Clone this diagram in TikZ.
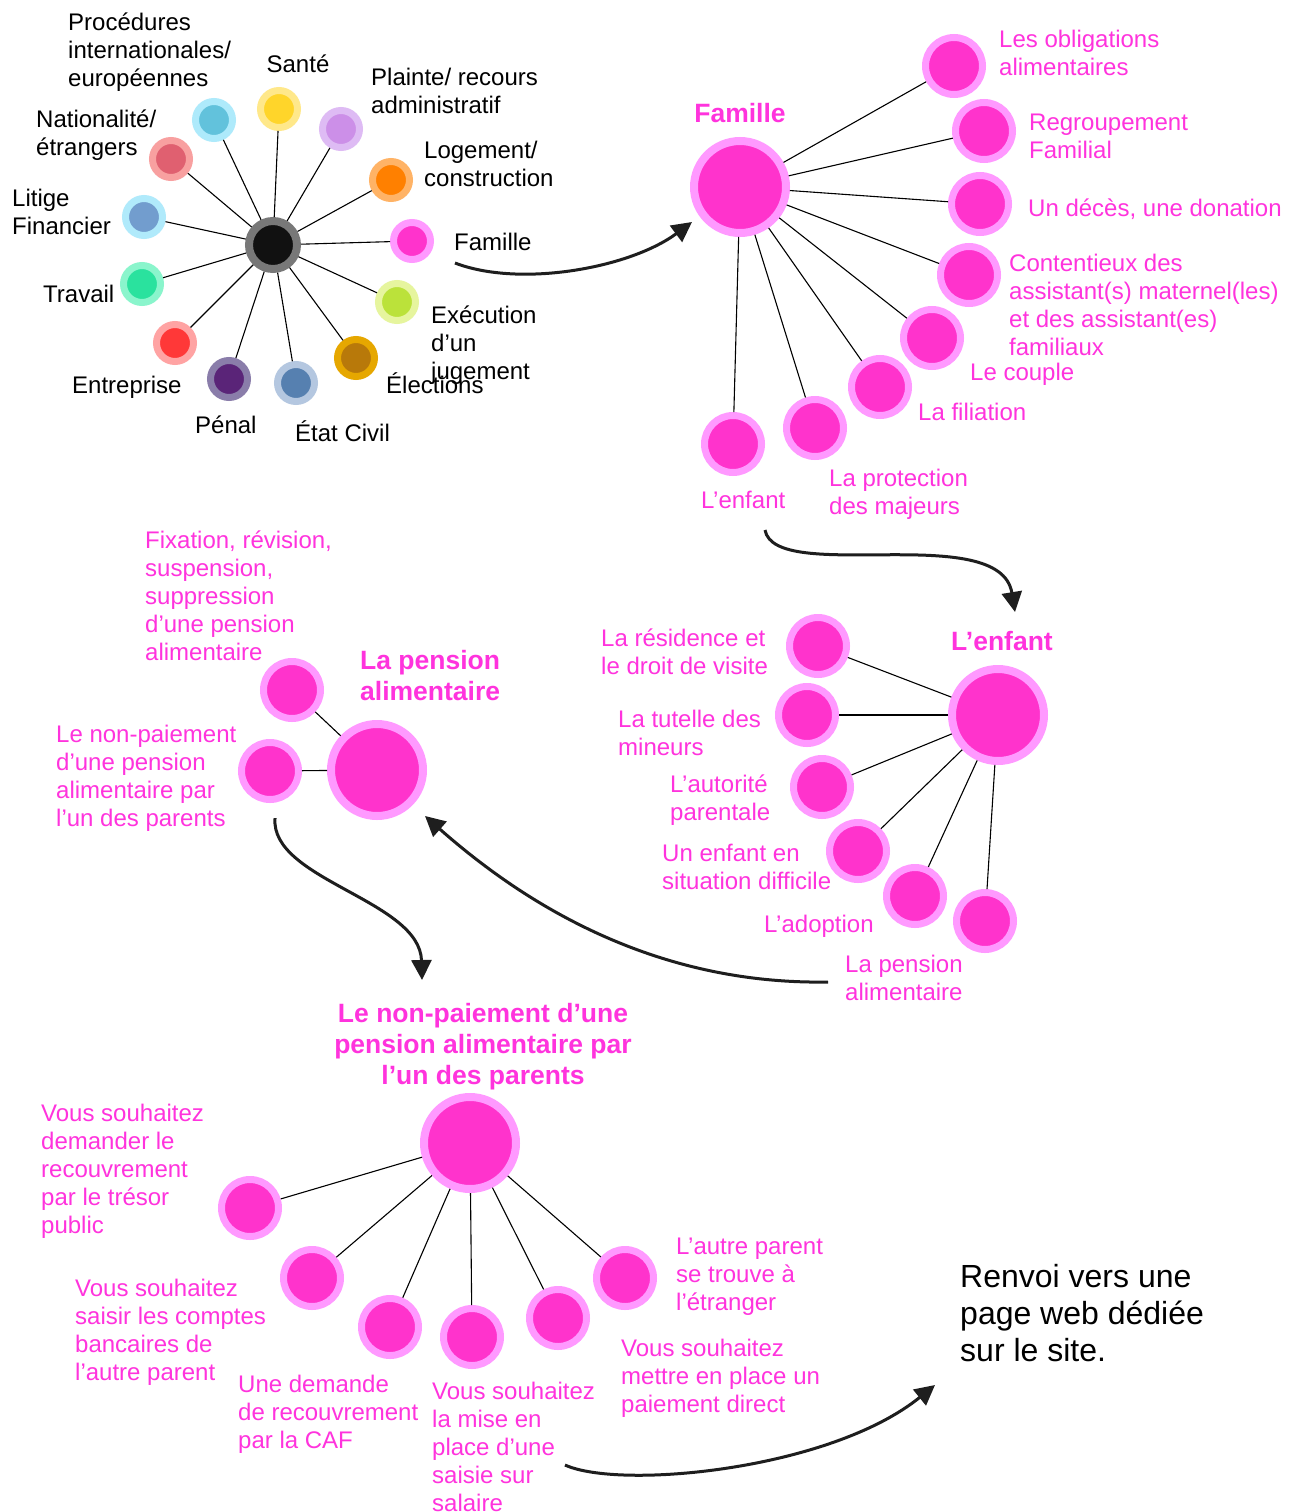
\documentclass[tikz,border=0pt]{standalone}
\usepackage{fontspec}
\setmainfont{Liberation Sans}
\usetikzlibrary{arrows.meta}
\definecolor{pk}{RGB}{255,51,204}
\definecolor{pkring}{RGB}{255,153,255}
\definecolor{pktext}{RGB}{255,51,221}
\definecolor{arrowc}{RGB}{30,30,30}
\definecolor{procI}{RGB}{98,194,220}\definecolor{procR}{RGB}{174,234,251}
\definecolor{santeI}{RGB}{255,213,42}\definecolor{santeR}{RGB}{255,232,138}
\definecolor{plaiI}{RGB}{204,143,232}\definecolor{plaiR}{RGB}{222,187,244}
\definecolor{logI}{RGB}{255,128,0}\definecolor{logR}{RGB}{255,179,102}
\definecolor{execI}{RGB}{187,226,58}\definecolor{execR}{RGB}{230,245,158}
\definecolor{elecI}{RGB}{184,121,10}\definecolor{elecR}{RGB}{230,167,0}
\definecolor{etatI}{RGB}{86,128,176}\definecolor{etatR}{RGB}{180,199,224}
\definecolor{penI}{RGB}{90,36,120}\definecolor{penR}{RGB}{138,125,170}
\definecolor{entI}{RGB}{255,56,56}\definecolor{entR}{RGB}{255,163,163}
\definecolor{travI}{RGB}{42,226,158}\definecolor{travR}{RGB}{138,245,204}
\definecolor{litI}{RGB}{114,157,206}\definecolor{litR}{RGB}{176,234,251}
\definecolor{natI}{RGB}{224,96,112}\definecolor{natR}{RGB}{248,160,160}
\definecolor{hubI}{RGB}{17,17,17}\definecolor{hubR}{RGB}{120,120,120}
\tikzset{
  wn/.style 2 args={circle, inner sep=0pt, minimum size=37pt, line width=7pt, outer sep=3.5pt, fill=#1, draw=#2},
  hubnode/.style={circle, inner sep=0pt, minimum size=48pt, line width=8pt, outer sep=4pt, fill=hubI, draw=hubR},
  psmall/.style={circle, inner sep=0pt, minimum size=57pt, line width=7pt, outer sep=3.5pt, fill=pk, draw=pkring},
  pbig/.style={circle, inner sep=0pt, minimum size=92pt, line width=8pt, outer sep=4pt, fill=pk, draw=pkring},
  conn/.style={line width=1.1pt, black},
  bigarrow/.style={line width=3pt, draw=arrowc, -{Triangle[length=20pt,width=20pt]}},
  lbl/.style={inner sep=0pt, anchor=base west, align=left, font=\fontsize{24}{28}\selectfont, text=black},
  plbl/.style={lbl, text=pktext},
  ttl/.style={inner sep=0pt, align=left, font=\fontsize{26.5}{31}\selectfont\bfseries, text=pktext},
}
\begin{document}
\begin{tikzpicture}[x=1pt,y=-1pt]
\useasboundingbox[fill=white] (0,0) rectangle (1293,1512);
% ---------- wheel ----------
\node[hubnode] (hub) at (273,245) {};
\node[wn={procI}{procR}] (w-proc) at (214,120) {};
\node[wn={santeI}{santeR}] (w-sante) at (279,109) {};
\node[wn={plaiI}{plaiR}] (w-plainte) at (341,129) {};
\node[wn={logI}{logR}] (w-log) at (391,180) {};
\node[wn={pk}{pkring}] (w-fam) at (412,241) {};
\node[wn={execI}{execR}] (w-exec) at (397,302) {};
\node[wn={elecI}{elecR}] (w-elec) at (356,358) {};
\node[wn={etatI}{etatR}] (w-etat) at (296,383) {};
\node[wn={penI}{penR}] (w-pen) at (229,379) {};
\node[wn={entI}{entR}] (w-ent) at (175,343) {};
\node[wn={travI}{travR}] (w-trav) at (142,284) {};
\node[wn={litI}{litR}] (w-lit) at (144,217) {};
\node[wn={natI}{natR}] (w-nat) at (171,159) {};
\foreach \n in {proc,sante,plainte,log,fam,exec,elec,etat,pen,ent,trav,lit,nat}
  \draw[conn] (hub) -- (w-\n);
\node[lbl] (t-proc) at (68,86) {Procédures\\internationales/\\européennes};
\node[lbl, anchor=base] (t-sante) at (298,72) {Santé};
\node[lbl] (t-plainte) at (371,113) {Plainte/ recours\\administratif};
\node[lbl] (t-log) at (424,186) {Logement/\\construction};
\node[lbl] (t-fam) at (454,250) {Famille};
\node[lbl] (t-exec) at (431,379) {Exécution\\d’un\\jugement};
\node[lbl] (t-elec) at (386,393) {Élections};
\node[lbl] (t-etat) at (295,441) {État Civil};
\node[lbl] (t-pen) at (195,433) {Pénal};
\node[lbl] (t-ent) at (72,393) {Entreprise};
\node[lbl] (t-trav) at (43,302) {Travail};
\node[lbl] (t-lit) at (12,234) {Litige\\Financier};
\node[lbl] (t-nat) at (36,155) {Nationalité/\\étrangers};
% ---------- Famille ----------
\node[ttl, anchor=base] (fam-title) at (740,122) {Famille};
\node[pbig] (fam) at (740,187) {};
\node[psmall] (f1) at (954,66) {};
\node[psmall] (f2) at (984,131) {};
\node[psmall] (f3) at (980,204) {};
\node[psmall] (f4) at (969,275) {};
\node[psmall] (f5) at (932,338) {};
\node[psmall] (f6) at (880,387) {};
\node[psmall] (f7) at (815,428) {};
\node[psmall] (f8) at (733,444) {};
\foreach \n in {1,...,8} \draw[conn] (fam) -- (f\n);
\node[plbl] (tf1) at (999,75) {Les obligations\\alimentaires};
\node[plbl] (tf2) at (1029,158) {Regroupement\\Familial};
\node[plbl] (tf3) at (1028,216) {Un décès, une donation};
\node[plbl] (tf4) at (1009,355) {Contentieux des\\assistant(s) maternel(les)\\et des assistant(es)\\familiaux};
\node[plbl] (tf5) at (970,380) {Le couple};
\node[plbl] (tf6) at (918,420) {La filiation};
\node[plbl] (tf7) at (829,514) {La protection\\des majeurs};
\node[plbl] (tf8) at (701,508) {L’enfant};
% ---------- L'enfant ----------
\node[ttl, anchor=base] (enf-title) at (1002,650) {L’enfant};
\node[pbig] (enf) at (998,715) {};
\node[psmall] (e1) at (818,646) {};
\node[psmall] (e2) at (807,715) {};
\node[psmall] (e3) at (822,787) {};
\node[psmall] (e4) at (858,851) {};
\node[psmall] (e5) at (915,896) {};
\node[psmall] (e6) at (985,921) {};
\foreach \n in {1,...,6} \draw[conn] (enf) -- (e\n);
\node[plbl] (te1) at (601,674) {La résidence et\\le droit de visite};
\node[plbl] (te2) at (618,755) {La tutelle des\\mineurs};
\node[plbl] (te3) at (670,820) {L’autorité\\parentale};
\node[plbl] (te4) at (662,889) {Un enfant en\\situation difficile};
\node[plbl] (te5) at (764,932) {L’adoption};
\node[plbl] (te6) at (845,1000) {La pension\\alimentaire};
% ---------- La pension ----------
\node[ttl, anchor=base west] (pen-title) at (360,700) {La pension\\alimentaire};
\node[pbig] (pen) at (377,770) {};
\node[psmall] (p1) at (292,690) {};
\node[psmall] (p2) at (270,771) {};
\foreach \n in {1,2} \draw[conn] (pen) -- (p\n);
\node[plbl] (tp1) at (145,660) {Fixation, révision,\\suspension,\\suppression\\d’une pension\\alimentaire};
\node[plbl] (tp2) at (56,826) {Le non-paiement\\d’une pension\\alimentaire par\\l’un des parents};
% ---------- Non-paiement ----------
\node[ttl, anchor=base, align=center] (np-title) at (483,1084) {Le non-paiement d’une\\pension alimentaire par\\l’un des parents};
\node[pbig] (np) at (470,1143) {};
\node[psmall] (n1) at (250,1208) {};
\node[psmall] (n2) at (312,1278) {};
\node[psmall] (n3) at (390,1327) {};
\node[psmall] (n4) at (472,1337) {};
\node[psmall] (n5) at (558,1318) {};
\node[psmall] (n6) at (625,1278) {};
\foreach \n in {1,...,6} \draw[conn] (np) -- (n\n);
\node[plbl] (tn1) at (41,1233) {Vous souhaitez\\demander le\\recouvrement\\par le trésor\\public};
\node[plbl] (tn2) at (75,1380) {Vous souhaitez\\saisir les comptes\\bancaires de\\l’autre parent};
\node[plbl] (tn3) at (238,1448) {Une demande\\de recouvrement\\par la CAF};
\node[plbl] (tn4) at (432,1511) {Vous souhaitez\\la mise en\\place d’une\\saisie sur\\salaire};
\node[plbl] (tn6) at (676,1310) {L’autre parent\\se trouve à\\l’étranger};
\node[plbl] (tn5) at (621,1412) {Vous souhaitez\\mettre en place un\\paiement direct};
\node[lbl, font=\fontsize{32}{37}\selectfont] (renvoi) at (960,1361) {Renvoi vers une\\page web dédiée\\sur le site.};
% ---------- arrows ----------
\coordinate (a1s) at (455,263); \coordinate (a1e) at (692,222);
\coordinate (a2s) at (765,530); \coordinate (a2e) at (1015,612);
\coordinate (a3s) at (828,982); \coordinate (a3e) at (425,816);
\coordinate (a4s) at (275,818); \coordinate (a4e) at (422,980);
\coordinate (a5s) at (565,1465); \coordinate (a5e) at (935,1385);
\draw[bigarrow] (a1s) .. controls (520,288) and (630,268) .. (a1e);
\draw[bigarrow] (a2s) .. controls (775,585) and (1000,520) .. (a2e);
\draw[bigarrow] (a3s) .. controls (650,985) and (520,900) .. (a3e);
\draw[bigarrow] (a4s) .. controls (270,880) and (420,900) .. (a4e);
\draw[bigarrow] (a5s) .. controls (620,1490) and (830,1470) .. (a5e);
\end{tikzpicture}
\end{document}
